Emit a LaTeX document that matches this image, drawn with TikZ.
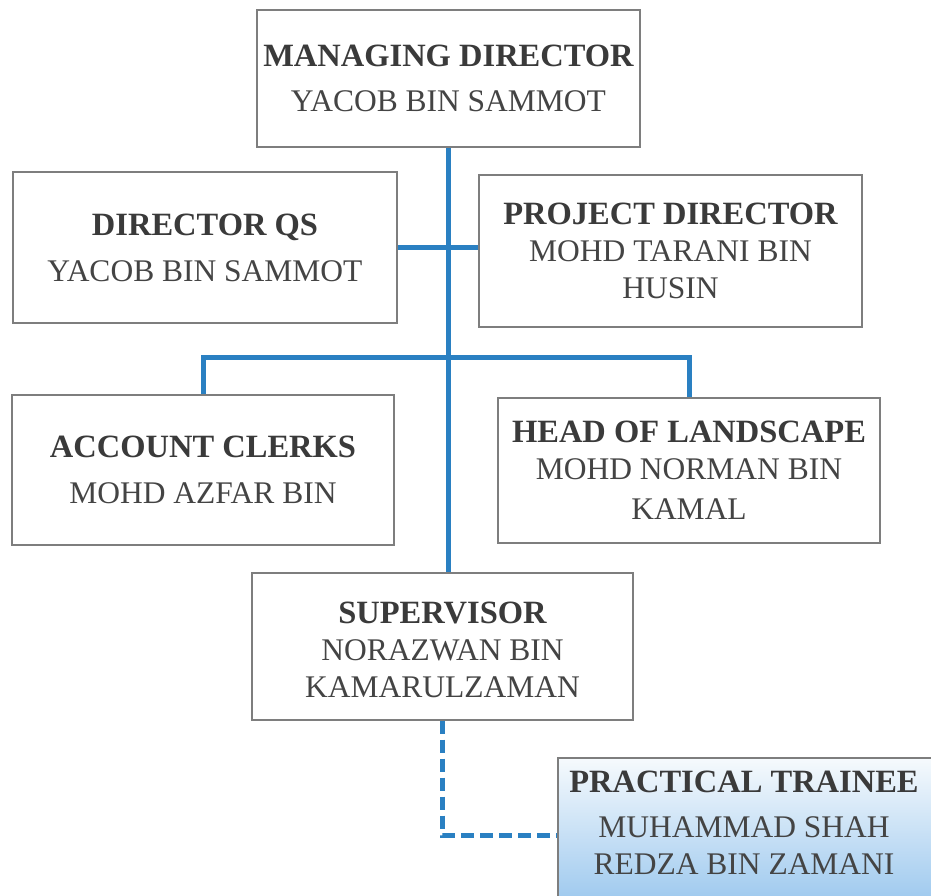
\documentclass[tikz,border=0pt]{standalone}
\usepackage{fontspec}
\setmainfont{Liberation Serif}
\definecolor{linkblue}{HTML}{2A80C2}
\definecolor{boxgray}{HTML}{7E7E7E}
\definecolor{titlegray}{HTML}{3A3A3A}
\definecolor{namegray}{HTML}{444444}
\definecolor{shadetop}{HTML}{F6FAFD}
\definecolor{shadebot}{HTML}{9CC8EE}
\begin{document}
\begin{tikzpicture}[x=1pt,y=-1pt,
  orgbox/.style={draw=boxgray, line width=1.2pt, fill=white, align=center,
    inner sep=0pt, font=\fontsize{31.5}{37}\selectfont, text=namegray},
  labeltext/.style={align=center, inner sep=0pt, font=\fontsize{31.5}{37}\selectfont, text=namegray},
  link/.style={draw=linkblue, line width=5pt},
  dashlink/.style={draw=linkblue, line width=5pt, dash pattern=on 13pt off 6pt}]
\useasboundingbox (0,0) rectangle (931,896);
\fill[white] (0,0) rectangle (931,896);

\newcommand{\ttl}[1]{{\fontsize{32.5}{37}\selectfont\bfseries\color{titlegray}#1}}

% nodes
\node[orgbox, minimum width=383pt, minimum height=137pt] (md) at (448.5,78.5)
  {\ttl{MANAGING DIRECTOR}\\[8pt]YACOB BIN SAMMOT};
\node[orgbox, minimum width=384pt, minimum height=151pt] (qs) at (205,247.5)
  {\ttl{DIRECTOR QS}\\[9pt]YACOB BIN SAMMOT};
\node[orgbox, minimum width=383pt, minimum height=152pt] (pd) at (670.5,251)
  {\ttl{PROJECT DIRECTOR}\\MOHD TARANI BIN\\HUSIN};
\node[orgbox, minimum width=382pt, minimum height=150pt] (ac) at (203,470)
  {\ttl{ACCOUNT CLERKS}\\[9pt]MOHD AZFAR BIN};
\node[orgbox, minimum width=382pt, minimum height=145pt] (hl) at (689,470.5)
  {\ttl{HEAD OF LANDSCAPE}\\MOHD NORMAN BIN\\[3pt]KAMAL};
\node[orgbox, minimum width=381pt, minimum height=147pt] (sup) at (442.5,646.5) {};
\node[labeltext] (suptext) at (442.5,650)
  {\ttl{SUPERVISOR}\\NORAZWAN BIN\\KAMARULZAMAN};
\node[draw=boxgray, line width=1.2pt, top color=shadetop, bottom color=shadebot,
  minimum width=382pt, minimum height=147pt, inner sep=0pt] (trainee) at (749,831.5) {};
\node[labeltext] (traineetext) at (744,823)
  {\ttl{PRACTICAL TRAINEE}\\[8pt]MUHAMMAD SHAH\\REDZA BIN ZAMANI};

% connectors
\coordinate (bus) at (445,357);
\draw[link] (md.south) -- (md.south |- sup.north);
\draw[link] (qs.east) -- (qs.east -| pd.west);
\draw[link] (ac.north) |- (bus) -| (hl.north);
\draw[dashlink] (sup.south) |- ([yshift=-3.5pt]trainee.west);
\end{tikzpicture}
\end{document}
